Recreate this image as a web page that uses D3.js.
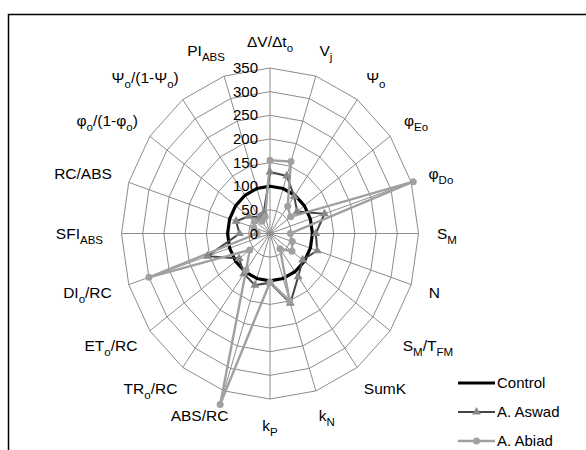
<!DOCTYPE html>
<html>
<head>
<meta charset="utf-8">
<script src="https://cdn.jsdelivr.net/npm/d3@7"></script>
<style>
  body { margin: 0; background: #fff; }
  svg { display: block; font-family: "Liberation Sans", Arial, sans-serif; }
</style>
</head>
<body>
<svg id="chart" width="586" height="450"></svg>
<script>
// axis labels, "_{..}" marks a subscript
var categories = [
  "ΔV/Δt_{o}", "V_{j}", "Ψ_{o}", "φ_{Eo}", "φ_{Do}", "S_{M}", "N", "S_{M}/T_{FM}",
  "SumK", "k_{N}", "k_{P}", "ABS/RC", "TR_{o}/RC", "ET_{o}/RC", "DI_{o}/RC",
  "SFI_{ABS}", "RC/ABS", "φ_{o}/(1-φ_{o})", "Ψ_{o}/(1-Ψ_{o})", "PI_{ABS}"
];
var control = [100, 100, 100, 100, 100, 100, 100, 100, 100, 100,
               100, 100, 100, 100, 100, 100, 100, 100, 100, 100];
var aswad = [130, 128, 97, 79, 135, 108, 117, 95, 113, 155,
             104, 115, 105, 90, 155, 72, 84, 62, 42, 47];
var abiad = [155, 160, 71, 60, 355, 48, 55, 64, 40, 150,
             103, 380, 96, 59, 300, 30, 40, 45, 32, 37];
var ticks = [0, 50, 100, 150, 200, 250, 300, 350];

var svg = d3.select("#chart");
var cx = 270, cy = 233.5;
var n = categories.length;

// the plot is a little wider than tall
var rX = d3.scaleLinear().domain([0, 350]).range([0, 148.5]);
var rY = d3.scaleLinear().domain([0, 350]).range([0, 165.5]);
var angle = d3.scaleLinear().domain([0, n]).range([0, 2 * Math.PI]);

function px(i, v) { return cx + rX(v) * Math.sin(angle(i)); }
function py(i, v) { return cy - rY(v) * Math.cos(angle(i)); }

// frame
svg.append("path")
  .attr("d", "M8.5,450 L8.5,14.5 L586,14.5")
  .attr("fill", "none")
  .attr("stroke", "#000")
  .attr("stroke-width", 1.5);

// grid rings
var grid = svg.append("g");
ticks.slice(1).forEach(function(t) {
  grid.append("polygon")
    .attr("points", d3.range(n).map(i => px(i, t) + "," + py(i, t)).join(" "))
    .attr("fill", "none")
    .attr("stroke", "#8c8c8c")
    .attr("stroke-width", 1);
});
// spokes
grid.selectAll("line")
  .data(d3.range(n))
  .enter()
  .append("line")
  .attr("x1", cx).attr("y1", cy)
  .attr("x2", i => px(i, 350))
  .attr("y2", i => py(i, 350))
  .attr("stroke", "#8c8c8c")
  .attr("stroke-width", 1);

// category labels
function addRich(sel, str, big, small) {
  var shift = 0;
  str.split(/(_\{[^}]*\})/).filter(s => s.length).forEach(function(part) {
    if (part.startsWith("_{")) {
      sel.append("tspan").attr("font-size", small).attr("dy", 5).text(part.slice(2, -1));
      shift = -5;
    } else {
      sel.append("tspan").attr("font-size", big).attr("dy", shift).text(part);
      shift = 0;
    }
  });
}

var labR = { x: 167, y: 192 };
categories.forEach(function(c, i) {
  var a = angle(i);
  var s = Math.sin(a);
  var t = svg.append("text")
    .attr("x", cx + labR.x * s)
    .attr("y", cy - labR.y * Math.cos(a) + 5)
    .attr("font-size", 15.5)
    .attr("text-anchor", Math.abs(s) < 0.1 ? "middle" : (s > 0 ? "start" : "end"))
    .attr("fill", "#000");
  addRich(t, c, 15.5, 11.5);
  // labels near the top and bottom slide a bit toward the axis
  if (Math.abs(s) >= 0.1) {
    var w = t.node().getComputedTextLength();
    var shiftX = 0.5 * (w / 2) * (1 - Math.abs(s)) * (s > 0 ? -1 : 1);
    t.attr("x", cx + labR.x * s + shiftX);
  }
});

// series
var line = d3.line().curve(d3.curveLinearClosed);
function pts(vals) { return vals.map((v, i) => [px(i, v), py(i, v)]); }

svg.append("path")
  .attr("d", line(pts(control)))
  .attr("fill", "none")
  .attr("stroke", "#000")
  .attr("stroke-width", 3.2);

svg.append("path")
  .attr("d", line(pts(aswad)))
  .attr("fill", "none")
  .attr("stroke", "#454545")
  .attr("stroke-width", 2);

svg.append("path")
  .attr("d", line(pts(abiad)))
  .attr("fill", "none")
  .attr("stroke", "#a0a0a0")
  .attr("stroke-width", 2.4);

var tri = d3.symbol().type(d3.symbolTriangle).size(34);
svg.append("g").selectAll("path")
  .data(pts(aswad))
  .enter()
  .append("path")
  .attr("d", tri)
  .attr("transform", d => "translate(" + d[0] + "," + d[1] + ")")
  .attr("fill", "#888");

svg.append("g").selectAll("circle")
  .data(pts(abiad))
  .enter()
  .append("circle")
  .attr("cx", d => d[0]).attr("cy", d => d[1])
  .attr("r", 3.5)
  .attr("fill", "#a0a0a0");

// tick labels on the vertical axis
svg.append("g").selectAll("text")
  .data(ticks)
  .enter()
  .append("text")
  .attr("x", cx - 12)
  .attr("y", d => cy - rY(d) + 5)
  .attr("text-anchor", "end")
  .attr("font-size", 15)
  .text(d => d);

// legend
var legend = [
  { name: "Control", color: "#000", width: 3.2, mark: null },
  { name: "A. Aswad", color: "#454545", width: 2, mark: "tri" },
  { name: "A. Abiad", color: "#a0a0a0", width: 2.4, mark: "circle" }
];
var lg = svg.append("g").attr("transform", "translate(458,383)");
legend.forEach(function(d, i) {
  var g = lg.append("g").attr("transform", "translate(0," + i * 29 + ")");
  g.append("line").attr("x1", 0).attr("x2", 37).attr("stroke", d.color).attr("stroke-width", d.width);
  if (d.mark === "tri") g.append("path").attr("d", tri).attr("transform", "translate(18.5,0)").attr("fill", "#888");
  if (d.mark === "circle") g.append("circle").attr("cx", 18.5).attr("r", 3.5).attr("fill", "#a0a0a0");
  g.append("text").attr("x", 39).attr("y", 5).attr("font-size", 15).text(d.name);
});
</script>
</body>
</html>
